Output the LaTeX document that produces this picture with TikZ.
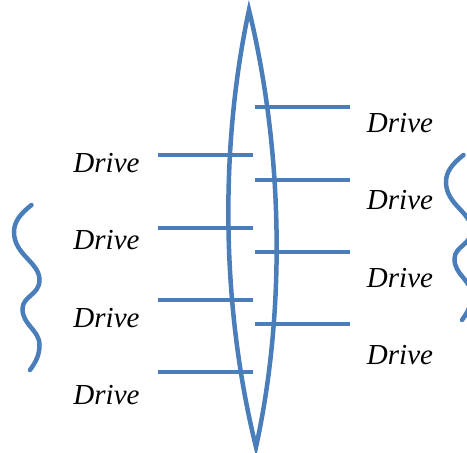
\documentclass[tikz,border=0pt]{standalone}
\usepackage{fontspec}
\setmainfont{Liberation Serif}[ItalicFont=Liberation Serif Italic]
\begin{document}
\begin{tikzpicture}[x=1pt,y=-1pt,
  blueline/.style={draw=lensblue,line width=4.5pt},
  lbl/.style={anchor=base,inner sep=0pt,font=\fontsize{29}{29}\selectfont\itshape}]
\definecolor{lensblue}{RGB}{74,126,187}
\useasboundingbox (0,0) rectangle (467,453);
% lens
\coordinate (top) at (249,10);
\coordinate (bot) at (256,447);
\draw[blueline,line join=miter,miter limit=20] (top) .. controls (219,150) and (222,310) .. (bot) .. controls (286,310) and (283,150) .. (top) -- cycle;
% left bars
\foreach \y/\n in {155/l1,228/l2,300/l3,372/l4}{
  \coordinate (\n a) at (158,\y);
  \coordinate (\n b) at (253,\y);
  \draw[blueline] (\n a) -- (\n b);
}
% right bars
\foreach \y/\n in {107/r1,180/r2,252/r3,324/r4}{
  \coordinate (\n a) at (255,\y);
  \coordinate (\n b) at (350,\y);
  \draw[blueline] (\n a) -- (\n b);
}
% labels
\node[lbl] (dl1) at (106.5,172) {Drive};
\node[lbl] (dl2) at (106.5,249.5) {Drive};
\node[lbl] (dl3) at (106.5,327) {Drive};
\node[lbl] (dl4) at (106.5,404.5) {Drive};
\node[lbl] (dr1) at (400,132) {Drive};
\node[lbl] (dr2) at (400,209.5) {Drive};
\node[lbl] (dr3) at (400,287) {Drive};
\node[lbl] (dr4) at (400,364.5) {Drive};
% wavy lines
\foreach \sx/\sy in {0/0,432/-50}{
\begin{scope}[shift={(\sx,\sy)}]
\draw[blueline,line cap=round] (31.5,205) .. controls (20,214) and (14,222) .. (14,232)
  .. controls (14,255) and (39.5,262) .. (39.5,280)
  .. controls (39.5,295) and (22.5,296) .. (22.5,309)
  .. controls (22.5,325) and (39.5,330) .. (39.5,345)
  .. controls (39.5,356) and (35,363) .. (30,370);
\end{scope}
}
\end{tikzpicture}
\end{document}
